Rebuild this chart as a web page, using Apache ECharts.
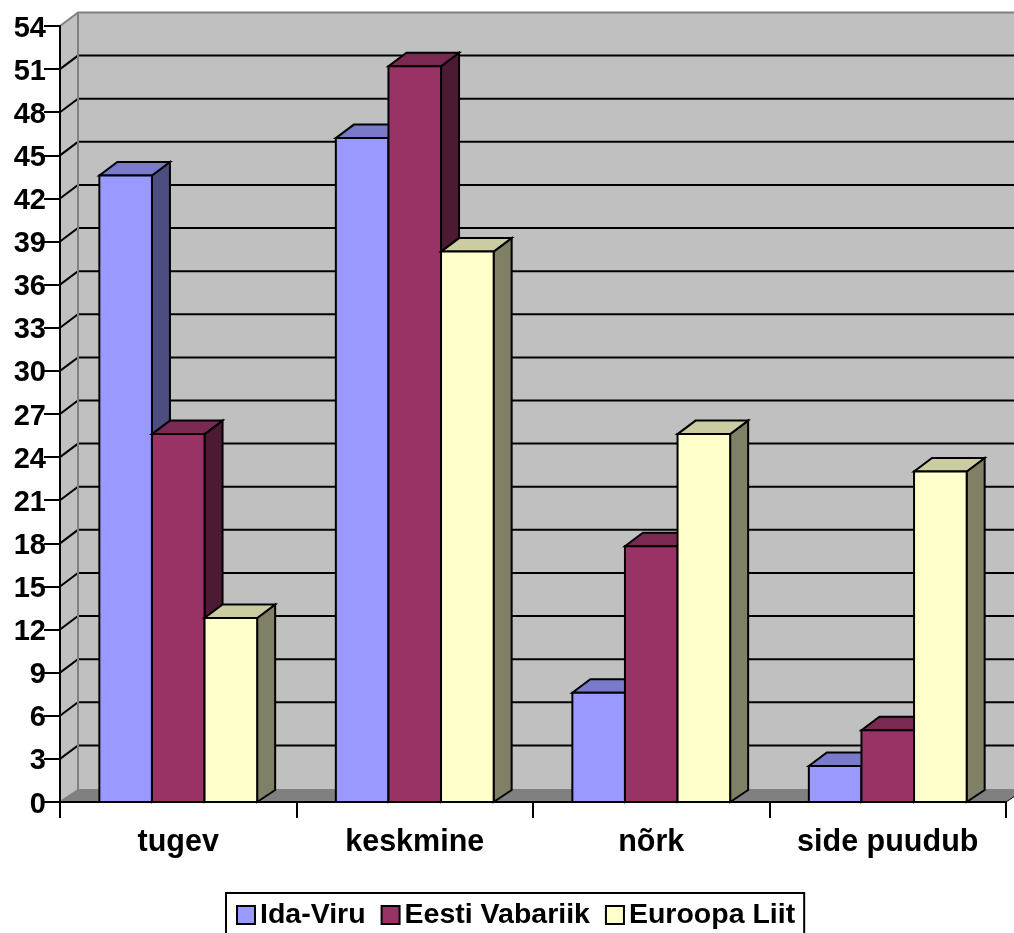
<!DOCTYPE html>
<html>
<head>
<meta charset="utf-8">
<style>html,body{margin:0;padding:0;background:#fff}#container{width:1014px;height:933px}</style>
<script src="https://cdn.jsdelivr.net/npm/echarts@6/dist/echarts.min.js"></script>
</head>
<body>
<div id="container"></div>
<script>
var categories = ['tugev', 'keskmine', 'nõrk', 'side puudub'];
var idaViru = [43.6, 46.2, 7.6, 2.5];
var eestiVabariik = [25.6, 51.2, 17.8, 5];
var euroopaLiit = [12.8, 38.3, 25.6, 23];
var yTicks = [0, 3, 6, 9, 12, 15, 18, 21, 24, 27, 30, 33, 36, 39, 42, 45, 48, 51, 54];

var depthX = 18;
var depthY = 13.5;
var floorDepthY = 12;
var barShare = 52.6 / 236.5;
var fontName = '"Liberation Sans", Arial, sans-serif';

var myChart = echarts.init(document.getElementById('container'));

function poly(points, fill, stroke, width) {
    return {
        type: 'polygon',
        shape: { points: points },
        style: { fill: fill, stroke: stroke, lineWidth: width, lineJoin: 'miter' }
    };
}

function line(points, stroke, width) {
    return {
        type: 'polyline',
        shape: { points: points },
        style: { fill: null, stroke: stroke, lineWidth: width }
    };
}

// back wall, side wall and floor of the 3D box
function renderWall(params, api) {
    var rect = params.coordSys;
    var left = rect.x, right = rect.x + rect.width;
    var bottom = api.coord([0, 0])[1];
    var top = api.coord([0, yTicks[yTicks.length - 1]])[1];
    var kids = [
        poly([[left + depthX, bottom - floorDepthY], [right + depthX, bottom - floorDepthY], [right + depthX, top - depthY], [left + depthX, top - depthY]], '#c0c0c0', null, 0),
        poly([[left, bottom], [left + depthX, bottom - floorDepthY], [left + depthX, top - depthY], [left, top]], '#c0c0c0', null, 0),
        poly([[left, bottom], [right, bottom], [right + depthX, bottom - floorDepthY], [left + depthX, bottom - floorDepthY]], '#808080', null, 0)
    ];
    yTicks.forEach(function (t) {
        var y = api.coord([0, t])[1];
        if (t > 0 && t < yTicks[yTicks.length - 1]) {
            kids.push(line([[left, y], [left + depthX, y - depthY], [right + depthX, y - depthY]], '#000', 2));
        }
    });
    kids.push(line([[left, top], [left + depthX, top - depthY], [right + depthX, top - depthY]], '#808080', 2));
    kids.push(line([[left + depthX, top - depthY], [left + depthX, bottom - floorDepthY], [right + depthX, bottom - floorDepthY]], '#808080', 2));
    kids.push(line([[left, bottom], [left + depthX, bottom - floorDepthY]], '#808080', 2));
    kids.push(line([[right, bottom], [right + depthX, bottom - floorDepthY]], '#000', 1));
    return { type: 'group', children: kids };
}

function barSeries(name, values, slot, front, topFace, sideFace) {
    return {
        name: name,
        type: 'custom',
        z: 3,
        clip: false,
        itemStyle: { color: front, borderColor: '#000', borderWidth: 2 },
        data: values.map(function (v, i) { return [i, v]; }),
        encode: { x: 0, y: 1 },
        renderItem: function (params, api) {
            var band = api.size([1, 0])[0];
            var w = band * barShare;
            var center = api.coord([api.value(0), 0])[0];
            var x0 = center + (slot - 1.5) * w;
            var x1 = x0 + w;
            var y0 = api.coord([api.value(0), 0])[1];
            var y1 = api.coord([api.value(0), api.value(1)])[1];
            return {
                type: 'group',
                children: [
                    poly([[x1, y0], [x1 + depthX, y0 - floorDepthY], [x1 + depthX, y1 - depthY], [x1, y1]], sideFace, '#000', 2),
                    poly([[x0, y1], [x1, y1], [x1 + depthX, y1 - depthY], [x0 + depthX, y1 - depthY]], topFace, '#000', 2),
                    poly([[x0, y0], [x1, y0], [x1, y1], [x0, y1]], front, '#000', 2)
                ]
            };
        }
    };
}

var option = {
    animation: false,
    backgroundColor: '#ffffff',
    grid: { left: 60, top: 26, width: 946, height: 776 },
    legend: {
        left: 226,
        top: 893,
        padding: [7, 9, 5, 10],
        itemGap: 15,
        itemWidth: 18,
        itemHeight: 18,
        icon: 'rect',
        borderColor: '#000',
        borderWidth: 2,
        backgroundColor: '#fff',
        data: ['Ida-Viru', 'Eesti Vabariik', 'Euroopa Liit'],
        itemStyle: { borderColor: '#000', borderWidth: 2 },
        textStyle: { color: '#000', fontFamily: fontName, fontWeight: 'bold', fontSize: 28.5, lineHeight: 30 }
    },
    xAxis: {
        type: 'category',
        data: categories,
        z: 2,
        axisLine: { lineStyle: { color: '#000', width: 2 } },
        axisTick: { show: true, alignWithLabel: false, interval: 0, length: 16, lineStyle: { color: '#000', width: 2 } },
        axisLabel: { color: '#000', fontFamily: fontName, fontWeight: 'bold', fontSize: 30.5, margin: 25 }
    },
    yAxis: {
        type: 'value',
        min: 0,
        max: 54,
        interval: 3,
        z: 2,
        splitLine: { show: false },
        axisLine: { show: true, lineStyle: { color: '#000', width: 2 } },
        axisTick: { show: true, length: 16, lineStyle: { color: '#000', width: 2 } },
        axisLabel: {
            margin: 14,
            formatter: '{n|{value}}',
            rich: { n: { color: '#000', fontFamily: fontName, fontWeight: 'bold', fontSize: 29, padding: [5, 0, 0, 0] } }
        }
    },
    series: [
        { type: 'custom', z: 1, clip: false, silent: true, data: [[0, 0]], encode: { x: 0, y: 1 }, renderItem: renderWall },
        barSeries('Ida-Viru', idaViru, 0, '#9999ff', '#7a7acc', '#4d4d80'),
        barSeries('Eesti Vabariik', eestiVabariik, 1, '#993366', '#7a2952', '#4d1a33'),
        barSeries('Euroopa Liit', euroopaLiit, 2, '#ffffcc', '#cccca3', '#808066')
    ]
};

myChart.setOption(option);
</script>
</body>
</html>
